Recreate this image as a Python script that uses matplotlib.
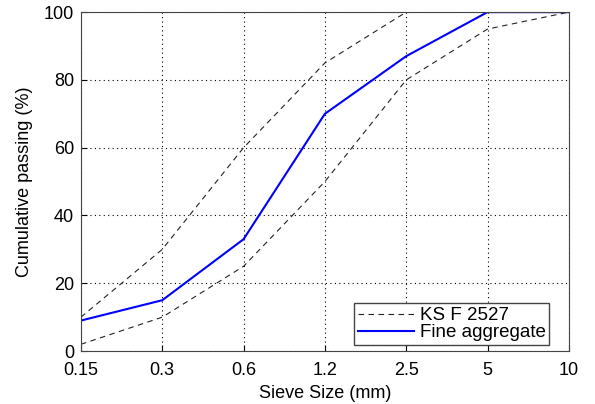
import matplotlib
matplotlib.use('Agg')
import matplotlib.pyplot as plt

sieve_labels = ['0.15', '0.3', '0.6', '1.2', '2.5', '5', '10']
upper_limit = [10, 30, 60, 85, 100, 100, 100]
lower_limit = [2, 10, 25, 50, 80, 95, 100]
fine_aggregate = [9, 15, 33, 70, 87, 100, 100]

plt.rcParams['font.family'] = ['Liberation Sans', 'DejaVu Sans']

fig = plt.figure(figsize=(5.95, 4.04), dpi=100)
ax = fig.add_axes([0.136, 0.131, 0.820, 0.839])

x = list(range(len(sieve_labels)))
ax.plot(x, upper_limit, color='#222222', linewidth=0.8, dashes=(5, 4), label='KS F 2527')
ax.plot(x, lower_limit, color='#222222', linewidth=0.8, dashes=(5, 4))
ax.plot(x, fine_aggregate, '-', color='blue', linewidth=1.5, label='Fine aggregate')

ax.set_xlim(0, len(sieve_labels) - 1)
ax.set_ylim(0, 100)
ax.set_xticks(x)
ax.set_xticklabels(sieve_labels)
ax.set_yticks([0, 20, 40, 60, 80, 100])
ax.tick_params(direction='in', labelsize=13, length=4)
ax.tick_params(axis='x', pad=8)
ax.tick_params(axis='y', pad=5)
ax.grid(True, linestyle=(0, (1, 3)), color='black', linewidth=0.8)
for s in ax.spines.values():
    s.set_color('#444444')

ax.set_xlabel('Sieve Size (mm)', fontsize=13, labelpad=4)
ax.set_ylabel('Cumulative passing (%)', fontsize=13, labelpad=8)

ax.legend(loc='lower right', bbox_to_anchor=(0.923, 0.146), bbox_transform=fig.transFigure,
          fancybox=False, edgecolor='#444444', framealpha=1, fontsize=13.5,
          handlelength=3.0, borderpad=0.2, labelspacing=0.0, handletextpad=0.3,
          borderaxespad=0)

fig.savefig('out.png', dpi=100)
